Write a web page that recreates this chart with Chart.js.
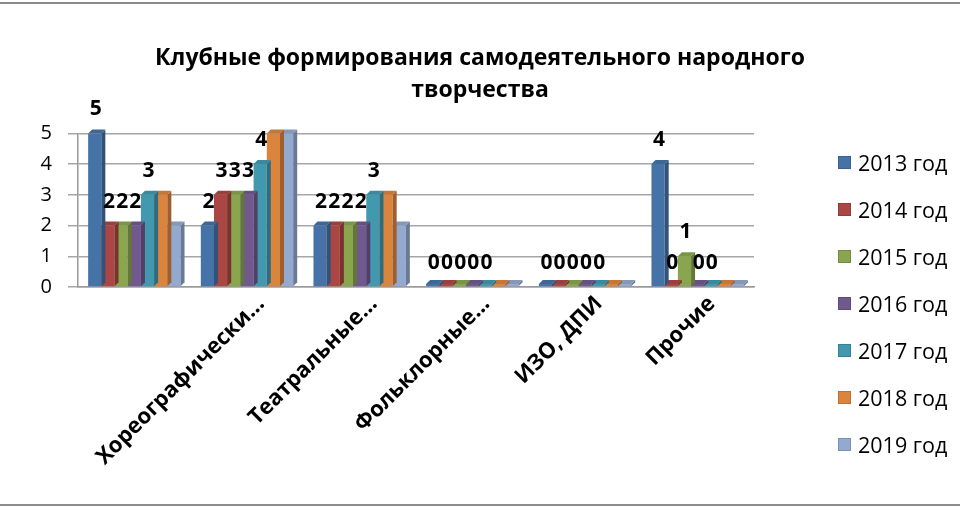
<!DOCTYPE html>
<html>
<head>
<meta charset="utf-8">
<script src="https://cdn.jsdelivr.net/npm/chart.js@4/dist/chart.umd.min.js"></script>
<style>
  html, body { margin: 0; padding: 0; background: #fff; }
  #wrap { position: relative; width: 960px; height: 510px; overflow: hidden; }
  #frameTop, #frameBottom { position: absolute; left: 0; width: 960px; height: 2px; background: #8c8c8c; }
  #frameTop { top: 2px; }
  #frameBottom { top: 504px; }
  #legend { position: absolute; left: 838px; top: 139px; font-family: 'Open Sans', sans-serif; font-size: 21.5px; color: #000; }
  .li { height: 47px; display: flex; align-items: center; white-space: nowrap; }
  .li .sw { width: 13px; height: 13px; margin-right: 7px; box-sizing: border-box; flex: none; }
</style>
</head>
<body>
<div id="wrap">
  <canvas id="c" width="960" height="510"></canvas>
  <div id="frameTop"></div>
  <div id="frameBottom"></div>
  <div id="legend"></div>
</div>
<script>
const titleLines = ['Клубные формирования самодеятельного народного', 'творчества'];
const categories = ['', 'Хореографически...', 'Театральные...', 'Фольклорные...', 'ИЗО, ДПИ', 'Прочие'];
const seriesNames = ['2013 год', '2014 год', '2015 год', '2016 год', '2017 год', '2018 год', '2019 год'];
const seriesColors = ['#4572A7', '#AA4643', '#89A54E', '#71588F', '#4198AF', '#DB843D', '#93A9CF'];
const v2013 = [5, 2, 2, 0, 0, 4];
const v2014 = [2, 3, 2, 0, 0, 0];
const v2015 = [2, 3, 2, 0, 0, 1];
const v2016 = [2, 3, 2, 0, 0, 0];
const v2017 = [3, 4, 3, 0, 0, 0];
const v2018 = [3, 5, 3, 0, 0, 0];
const v2019 = [2, 5, 2, 0, 0, 0];
const seriesValues = [v2013, v2014, v2015, v2016, v2017, v2018, v2019];
const labeledSeries = [true, true, true, true, true, false, false];
const yTicks = [0, 1, 2, 3, 4, 5];

function shade(hex, f) {
  const n = parseInt(hex.slice(1), 16);
  const r = Math.round(((n >> 16) & 255) * f), g = Math.round(((n >> 8) & 255) * f), b = Math.round((n & 255) * f);
  return 'rgb(' + r + ',' + g + ',' + b + ')';
}

const datasets = seriesNames.map((name, i) => ({
  label: name,
  data: seriesValues[i],
  backgroundColor: seriesColors[i],
  borderColor: shade(seriesColors[i], 0.85),
  borderWidth: 0,
  categoryPercentage: 0.82,
  barPercentage: 1.0,
  minBarLength: 3
}));

// simple 3D faces for each bar, derived from the bar element geometry
const barDepth = {
  id: 'barDepth',
  afterDatasetDraw(chart, args) {
    const ds = chart.data.datasets[args.index];
    const ctx = chart.ctx;
    const d = 4;
    ctx.save();
    args.meta.data.forEach((bar) => {
      const p = bar.getProps(['x', 'y', 'base', 'width']);
      const x0 = p.x - p.width / 2, x1 = p.x + p.width / 2;
      const top = Math.min(p.y, p.base), bot = Math.max(p.y, p.base);
      ctx.fillStyle = shade(ds.backgroundColor, 0.72);
      ctx.beginPath();
      ctx.moveTo(x1, bot); ctx.lineTo(x1, top); ctx.lineTo(x1 + d, top - d); ctx.lineTo(x1 + d, bot - d); ctx.closePath();
      ctx.fill();
      ctx.fillStyle = shade(ds.backgroundColor, 0.9);
      ctx.beginPath();
      ctx.moveTo(x0, top); ctx.lineTo(x1, top); ctx.lineTo(x1 + d, top - d); ctx.lineTo(x0 + d, top - d); ctx.closePath();
      ctx.fill();
    });
    ctx.restore();
  }
};

const valueLabels = {
  id: 'valueLabels',
  afterDatasetsDraw(chart) {
    const ctx = chart.ctx;
    const ys = chart.scales.y;
    ctx.save();
    ctx.font = 'bold 21px "Open Sans", sans-serif';
    ctx.fillStyle = '#000';
    ctx.textAlign = 'center';
    ctx.textBaseline = 'middle';
    chart.data.datasets.forEach((ds, i) => {
      if (!labeledSeries[i]) return;
      const meta = chart.getDatasetMeta(i);
      meta.data.forEach((bar, j) => {
        ctx.fillText(String(ds.data[j]), bar.x + 1, ys.getPixelForValue(ds.data[j]) - 24);
      });
    });
    ctx.restore();
  }
};

const chart = new Chart(document.getElementById('c'), {
  type: 'bar',
  data: { labels: categories, datasets: datasets },
  options: {
    responsive: false,
    animation: false,
    devicePixelRatio: 1,
    layout: { padding: 0 },
    plugins: {
      legend: { display: false },
      tooltip: { enabled: false },
      title: {
        display: true,
        text: titleLines,
        color: '#000',
        font: { family: 'Open Sans', size: 23, weight: 'bold', lineHeight: 1.4 },
        padding: { top: 42, bottom: 27 }
      }
    },
    scales: {
      x: {
        grid: { display: false, drawTicks: false },
        border: { display: true, color: '#9a9a9a', width: 1.5 },
        ticks: {
          color: '#000',
          font: { family: 'Open Sans', size: 22, weight: 'bold' },
          maxRotation: 45,
          minRotation: 45,
          autoSkip: false,
          labelOffset: 14,
          padding: 4
        },
        afterFit(scale) { scale.height = 223; }
      },
      y: {
        min: 0,
        max: 5,
        afterBuildTicks(scale) { scale.ticks = yTicks.map(v => ({ value: v })); },
        grid: { color: '#a6a6a6', lineWidth: 1.5, tickLength: 10 },
        border: { display: true, color: '#9a9a9a', width: 1.5 },
        ticks: {
          color: '#000',
          font: { family: 'Open Sans', size: 20 },
          padding: 16
        },
        afterFit(scale) { scale.width = 78; }
      },
      spacer: {
        type: 'linear',
        position: 'right',
        display: true,
        grid: { display: false, drawTicks: false },
        border: { display: false },
        ticks: { display: false },
        afterFit(scale) { scale.width = 206; }
      }
    }
  },
  plugins: [barDepth, valueLabels]
});

const leg = document.getElementById('legend');
chart.data.datasets.forEach((ds) => {
  const row = document.createElement('div');
  row.className = 'li';
  const sw = document.createElement('span');
  sw.className = 'sw';
  sw.style.background = ds.backgroundColor;
  sw.style.border = '1px solid ' + ds.borderColor;
  const tx = document.createElement('span');
  tx.textContent = ds.label;
  row.appendChild(sw);
  row.appendChild(tx);
  leg.appendChild(row);
});
</script>
</body>
</html>
